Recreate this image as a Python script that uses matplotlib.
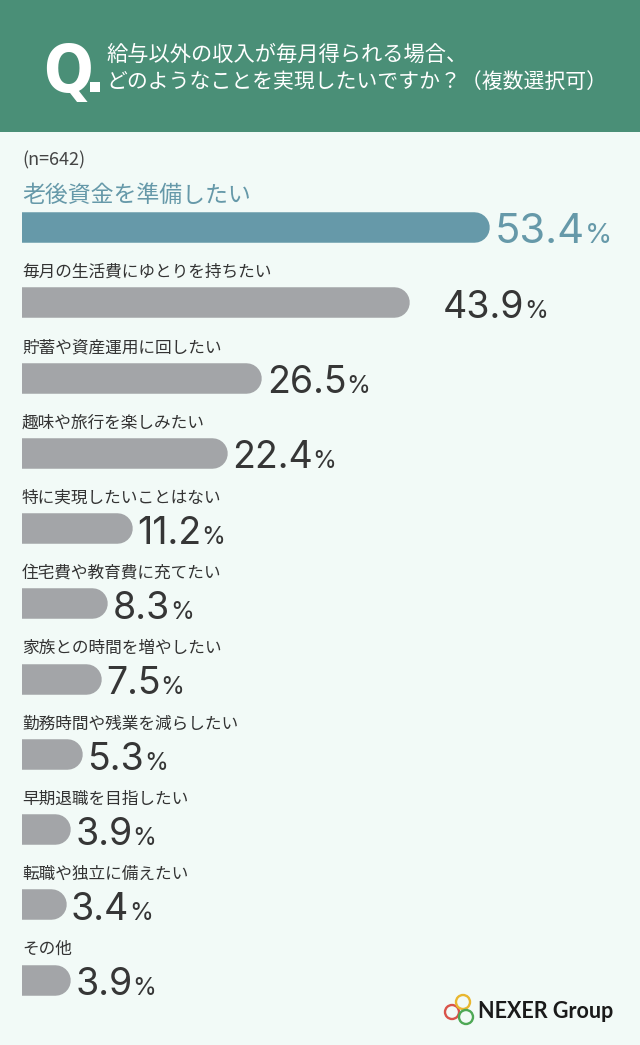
import os
import matplotlib
matplotlib.use('Agg')
import matplotlib.pyplot as plt
from matplotlib import font_manager
from matplotlib.font_manager import FontProperties
from matplotlib.patches import Rectangle, Circle
from matplotlib.transforms import IdentityTransform

plt.rcParams['font.family'] = ['Noto Sans CJK JP', 'DejaVu Sans']

# データ
categories = ['老後資金を準備したい', '毎月の生活費にゆとりを持ちたい', '貯蓄や資産運用に回したい',
              '趣味や旅行を楽しみたい', '特に実現したいことはない', '住宅費や教育費に充てたい',
              '家族との時間を増やしたい', '勤務時間や残業を減らしたい', '早期退職を目指したい',
              '転職や独立に備えたい', 'その他']
values = [53.4, 43.9, 26.5, 22.4, 11.2, 8.3, 7.5, 5.3, 3.9, 3.4, 3.9]
n_label = '(n=642)'
title_lines = ['給与以外の収入が毎月得られる場合、', 'どのようなことを実現したいですか？（複数選択可）']
brand = 'NEXER Group'

# 色
GREEN = '#4a8f77'
BG = '#f2faf7'
HILITE = '#6699a9'
GREY = '#a3a5a8'
DARK = '#363636'

W, H = 640, 1045
HEADER = 132
ROW0, PITCH = 227, 75.25   # 1本目の中心と間隔 (px)
K = 8.47                   # 1% あたりの px
BAR_H = 30.5
R = BAR_H / 2

# Q 用の細身フォント (なければ Roboto)
files = {os.path.basename(f.fname): f.fname for f in font_manager.fontManager.ttflist}
q_font = FontProperties(family='Roboto', weight='bold', size=44)
for name in ['DejaVuSansCondensed-Bold.ttf', 'AsapCondensed-Bold.ttf']:
    if name in files:
        q_font = FontProperties(fname=files[name], size=47)
        break

fig = plt.figure(figsize=(W / 100, H / 100), dpi=100, facecolor=BG)

# 背景とヘッダー
bg = fig.add_axes([0, 0, 1, 1])
bg.set_xlim(0, W)
bg.set_ylim(H, 0)
bg.axis('off')
bg.add_patch(Rectangle((0, 0), W, HEADER, color=GREEN, lw=0))
bg.text(43, 92, 'Q', color='white', fontproperties=q_font, va='baseline')
bg.add_patch(Rectangle((90, 82), 10, 10, color='white', lw=0))
bg.text(106, 55, title_lines[0], color='white', fontsize=15.3, va='center')
bg.text(106, 82, title_lines[1], color='white', fontsize=15, va='center')
bg.text(22, 160, n_label, color='#444444', fontsize=13, va='center')

# ロゴ
bg.add_patch(Circle((452, 1012), 7, fill=False, ec='#d9534a', lw=1.7))
bg.add_patch(Circle((463, 1002), 7, fill=False, ec='#e9b730', lw=1.7))
bg.add_patch(Circle((466, 1017), 7, fill=False, ec='#4ea855', lw=1.7))
bg.text(478, 1012, brand, color='#1a1a1a', fontsize=15.5, fontweight='bold',
        family=['Lato', 'DejaVu Sans'], va='center')

# 棒グラフ
ax = fig.add_axes([22 / W, 0, (W - 22) / W, (H - HEADER) / H])
ax.set_facecolor('none')
ax.set_xlim(0, (W - 22) / K)
ax.set_ylim((H - ROW0) / PITCH, (HEADER - ROW0) / PITCH)
ax.axis('off')

nums = []
for i, (cat, v) in enumerate(zip(categories, values)):
    top = i == 0
    color = HILITE if top else GREY
    ax.plot([-5, v], [i, i], color=color, lw=BAR_H * 0.72, solid_capstyle='round')
    ax.annotate(cat, xy=(0, i), xytext=(0, 32 if top else 30), textcoords='offset pixels',
                ha='left', va='center', fontsize=16.5 if top else 12,
                color=HILITE if top else '#333333', annotation_clip=False)
    gap = 34 if i == 1 else 5
    t = ax.annotate(f'{v:.1f}', xy=(v, i), xytext=(R + gap, -R - 0.5), textcoords='offset pixels',
                    ha='left', va='baseline', fontsize=30 if top else 27,
                    family=['Inter', 'DejaVu Sans'], color=HILITE if top else DARK,
                    annotation_clip=False)
    nums.append((t, v, i, top))

fig.canvas.draw()
renderer = fig.canvas.get_renderer()
for t, v, i, top in nums:
    bb = t.get_window_extent(renderer)
    base = ax.transData.transform((v, i))[1] - R - 0.5
    fig.text(bb.x1, base, '%', transform=IdentityTransform(), va='baseline',
             fontsize=20 if top else 17.5, family=['Inter', 'DejaVu Sans'],
             color=HILITE if top else DARK)

fig.savefig('out.png', dpi=100, facecolor=BG)
